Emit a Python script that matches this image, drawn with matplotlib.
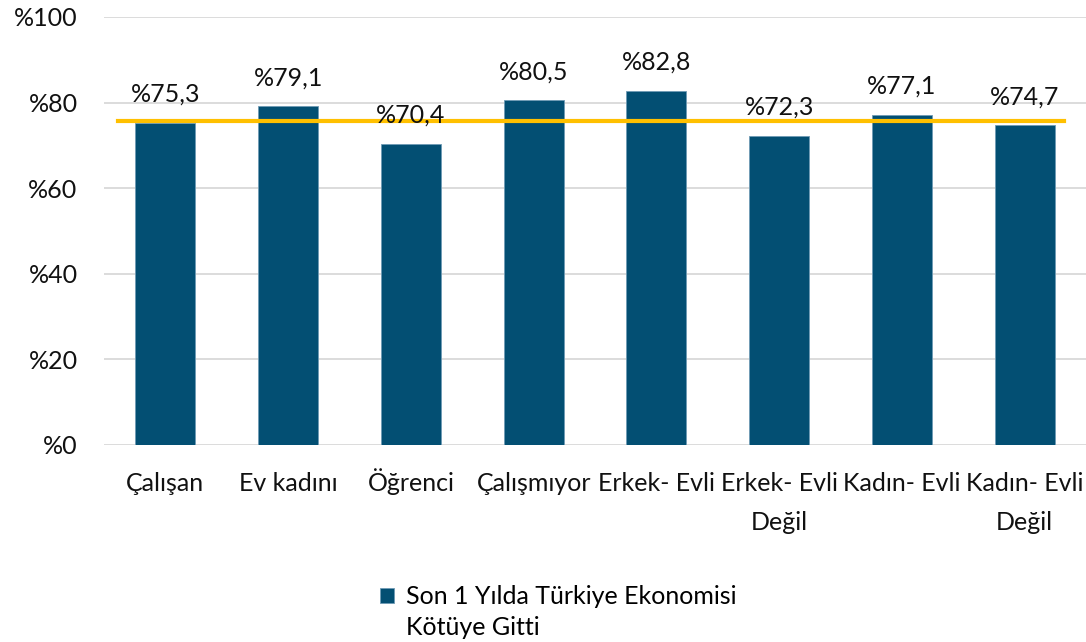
import matplotlib.pyplot as plt
import matplotlib.transforms as mtransforms
import numpy as np

categories = ['Çalışan', 'Ev kadını', 'Öğrenci', 'Çalışmıyor', 'Erkek- Evli',
              'Erkek- Evli\nDeğil', 'Kadın- Evli', 'Kadın- Evli\nDeğil']
values = [75.3, 79.1, 70.4, 80.5, 82.8, 72.3, 77.1, 74.7]
labels = ['%75,3', '%79,1', '%70,4', '%80,5', '%82,8', '%72,3', '%77,1', '%74,7']
average = 75.6
series_name = 'Son 1 Yılda Türkiye Ekonomisi\nKötüye Gitti'

plt.rcParams['font.family'] = ['Lato', 'DejaVu Sans']
fs = 18

fig = plt.figure(figsize=(10.86, 6.42), dpi=100)
ax = fig.add_axes([104 / 1086, 197 / 642, 982 / 1086, 428 / 642])

x = np.arange(len(categories))
bars = ax.bar(x, values, width=0.49, color='#034F73', edgecolor='#6F9BB5',
              linewidth=0.6, label=series_name, zorder=2)

# etiketler
for xi, v, t in zip(x, values, labels):
    ax.text(xi, v + 4.9, t, ha='center', va='baseline', fontsize=fs, color='#111111', zorder=4)

ax.axhline(average, xmin=0.014, xmax=0.978, color='#FFC000', linewidth=3, zorder=3)

ax.set_xlim(-0.5, len(categories) - 0.5)
ax.set_ylim(0, 100)
ax.set_yticks(range(0, 101, 20))
ax.set_yticklabels(['%' + str(t) for t in range(0, 101, 20)], fontsize=fs)
ax.set_xticks(x)
ax.set_xticklabels(categories, fontsize=fs, linespacing=1.85, va='baseline')
ax.tick_params(axis='both', length=0, colors='#111111')
ax.tick_params(axis='x', pad=33)
ax.tick_params(axis='y', pad=19)
ax.grid(axis='y', color='#D9D9D9', linewidth=1.3, zorder=0)
ax.set_axisbelow(True)
for s in ax.spines.values():
    s.set_visible(False)

# iki satirlik etiketleri bir satir asagi kaydir
shift = mtransforms.ScaledTranslation(0, -0.39, fig.dpi_scale_trans)
for lab in ax.get_xticklabels():
    if '\n' in lab.get_text():
        lab.set_transform(lab.get_transform() + shift)

leg = fig.legend(handles=[bars], labels=[series_name], loc='upper left',
                 bbox_to_anchor=(380 / 1086, 1 - 585 / 642), frameon=False,
                 fontsize=fs, handlelength=0.55, handleheight=0.55, handletextpad=0.5,
                 borderpad=0, borderaxespad=0)
for t in leg.get_texts():
    t.set_linespacing(1.43)
h = leg.legend_handles[0]
h.set_y(h.get_y() + 12.5)

fig.savefig('out.png', dpi=100)
